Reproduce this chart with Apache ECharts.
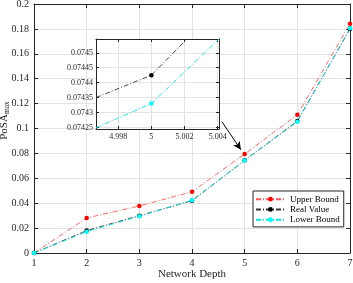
<!DOCTYPE html>
<html><head><meta charset="utf-8">
<script src="https://cdn.jsdelivr.net/npm/echarts@6/dist/echarts.min.js"></script>
<style>html,body{margin:0;padding:0;background:#fff}#c{width:353px;height:283px}</style>
</head><body><div id="c"></div>
<script>
// ---- data ----
const depth = [1, 2, 3, 4, 5, 6, 7];
const upperBound = [0, 0.0281, 0.0378, 0.0492, 0.0795, 0.111, 0.1842];
const realValue  = [0, 0.0180, 0.0300, 0.0420, 0.07443, 0.1060, 0.1800];
const lowerBound = [0, 0.0171, 0.0295, 0.0423, 0.07433, 0.1055, 0.1805];
const seriesNames = ['Upper Bound', 'Real Value', 'Lower Bound'];
// inset (zoom around depth = 5)
const insetRealX  = [4.99666, 5, 5.00215];
const insetRealY  = [0.07435, 0.074425, 0.074546];
const insetLowerX = [4.99666, 5, 5.00408];
const insetLowerY = [0.074249, 0.07433, 0.074546];
const insetXTicks = [4.998, 5, 5.002, 5.004];
const insetYTicks = [0.07425, 0.0743, 0.07435, 0.0744, 0.07445, 0.0745];
const insetXRange = [4.99666, 5.00408];
const insetYRange = [0.074245, 0.074546];
// arrow annotation (data coords)
const arrowFrom = [4.567, 0.1055];
const arrowTo = [4.928, 0.0830];

const FONT = 'Liberation Serif';
const AX = '#262626';
const GRIDC = '#e3e3e3';
const zip = (a, b) => a.map((v, i) => [v, b[i]]);
const dash = [5, 2, 1, 2];

function frameAxis(o) {
  return Object.assign({
    type: 'value',
    axisLine: { show: true, onZero: false, lineStyle: { color: AX, width: 1 } },
    axisTick: { show: true, inside: true, length: 4, lineStyle: { color: AX } },
    axisLabel: { show: false },
    splitLine: { show: false }
  }, o);
}

const chart = echarts.init(document.getElementById('c'), null, { renderer: 'canvas' });
const option = {
  animation: false,
  backgroundColor: '#fff',
  textStyle: { fontFamily: FONT },
  grid: [
    { left: 34, right: 3, top: 4, bottom: 30, containLabel: false, outerBoundsMode: 'none' },
    { left: 96, right: 134, top: 39, bottom: 154, show: true, backgroundColor: '#fff', borderWidth: 0, z: 5,
      containLabel: false, outerBoundsMode: 'none' }
  ],
  legend: {
    data: seriesNames,
    orient: 'vertical',
    left: 253, top: 191,
    itemWidth: 29, itemHeight: 6, itemGap: 0,
    padding: [3, 4, 2, 2],
    backgroundColor: '#fff',
    borderColor: AX, borderWidth: 1,
    textStyle: { fontFamily: FONT, fontSize: 9, color: '#000', lineHeight: 10.3 }
  },
  xAxis: [
    frameAxis({ gridIndex: 0, position: 'bottom', min: 1, max: 7, interval: 1,
      axisLabel: { show: true, fontFamily: FONT, fontSize: 10, color: AX, margin: 5 },
      splitLine: { show: true, lineStyle: { color: GRIDC, width: 1 } },
      name: 'Network Depth', nameLocation: 'middle', nameGap: 16, nameMoveOverlap: false,
      nameTextStyle: { fontFamily: FONT, fontSize: 11, color: AX } }),
    frameAxis({ gridIndex: 0, position: 'top', min: 1, max: 7, interval: 1 }),
    frameAxis({ gridIndex: 1, position: 'bottom', min: insetXRange[0], max: insetXRange[1], splitNumber: 4, z: 6,
      axisTick: { show: true, inside: true, length: 3, lineStyle: { color: AX }, customValues: insetXTicks },
      axisLabel: { show: true, fontFamily: FONT, fontSize: 8, color: AX, margin: 4, customValues: insetXTicks,
        formatter: v => String(+v.toFixed(3)) },
      splitLine: { show: true, lineStyle: { color: GRIDC, width: 1 } } }),
    frameAxis({ gridIndex: 1, position: 'top', min: insetXRange[0], max: insetXRange[1], splitNumber: 4, z: 6,
      axisTick: { show: true, inside: true, length: 3, lineStyle: { color: AX }, customValues: insetXTicks } })
  ],
  yAxis: [
    frameAxis({ gridIndex: 0, position: 'left', min: 0, max: 0.2, interval: 0.02,
      axisLabel: { show: true, fontFamily: FONT, fontSize: 10, color: AX, margin: 5,
        formatter: v => String(+v.toFixed(2)) },
      splitLine: { show: true, lineStyle: { color: GRIDC, width: 1 } },
      name: '{a|PoSA}{b|max}', nameLocation: 'middle', nameGap: 23, nameMoveOverlap: false, nameRotate: 90,
      nameTextStyle: { color: AX, padding: [0, 0, 0, 16], rich: {
        a: { fontFamily: FONT, fontSize: 11, color: AX, lineHeight: 14 },
        b: { fontFamily: FONT, fontSize: 7.5, color: AX, verticalAlign: 'bottom', lineHeight: 10 } } } }),
    frameAxis({ gridIndex: 0, position: 'right', min: 0, max: 0.2, interval: 0.02 }),
    frameAxis({ gridIndex: 1, position: 'left', min: insetYRange[0], max: insetYRange[1], splitNumber: 6, z: 6,
      axisTick: { show: true, inside: true, length: 3, lineStyle: { color: AX }, customValues: insetYTicks },
      axisLabel: { show: true, fontFamily: FONT, fontSize: 8, color: AX, margin: 3, customValues: insetYTicks,
        formatter: v => String(+v.toFixed(5)) },
      splitLine: { show: true, lineStyle: { color: GRIDC, width: 1 } } }),
    frameAxis({ gridIndex: 1, position: 'right', min: insetYRange[0], max: insetYRange[1], splitNumber: 6, z: 6,
      axisTick: { show: true, inside: true, length: 3, lineStyle: { color: AX }, customValues: insetYTicks } })
  ],
  series: [
    { name: seriesNames[0], type: 'line', xAxisIndex: 0, yAxisIndex: 0, data: zip(depth, upperBound),
      color: '#ff0000', symbol: 'circle', symbolSize: 4.5,
      lineStyle: { color: '#ff5555', width: 0.9, type: dash } },
    { name: seriesNames[1], type: 'line', xAxisIndex: 0, yAxisIndex: 0, data: zip(depth, realValue),
      color: '#000000', symbol: 'circle', symbolSize: 4.5,
      lineStyle: { color: '#333333', width: 0.9, type: dash },
      markLine: { silent: true, symbol: ['none', 'arrow'], symbolSize: [6, 8], label: { show: false },
        lineStyle: { color: '#000', width: 1, type: 'solid' },
        data: [[{ coord: arrowFrom }, { coord: arrowTo }]] } },
    { name: seriesNames[2], type: 'line', xAxisIndex: 0, yAxisIndex: 0, data: zip(depth, lowerBound),
      color: '#00ffff', symbol: 'circle', symbolSize: 4.5,
      lineStyle: { color: '#00e5e5', width: 0.9, type: dash } },
    { name: 'inset-real', type: 'line', xAxisIndex: 2, yAxisIndex: 2, data: zip(insetRealX, insetRealY), z: 7,
      color: '#000000', symbol: 'circle', symbolSize: 4.5,
      lineStyle: { color: '#333333', width: 0.9, type: dash } },
    { name: 'inset-lower', type: 'line', xAxisIndex: 2, yAxisIndex: 2, data: zip(insetLowerX, insetLowerY), z: 7,
      color: '#00ffff', symbol: 'circle', symbolSize: 4.5,
      lineStyle: { color: '#00e5e5', width: 0.9, type: dash } }
  ]
};
// only show markers at the actual data point (depth = 5) inside the inset
option.series[3].data = option.series[3].data.map((d, i) => i === 1 ? d : { value: d, symbol: 'none' });
option.series[4].data = option.series[4].data.map((d, i) => i === 1 ? d : { value: d, symbol: 'none' });
chart.setOption(option);
</script>
</body></html>
